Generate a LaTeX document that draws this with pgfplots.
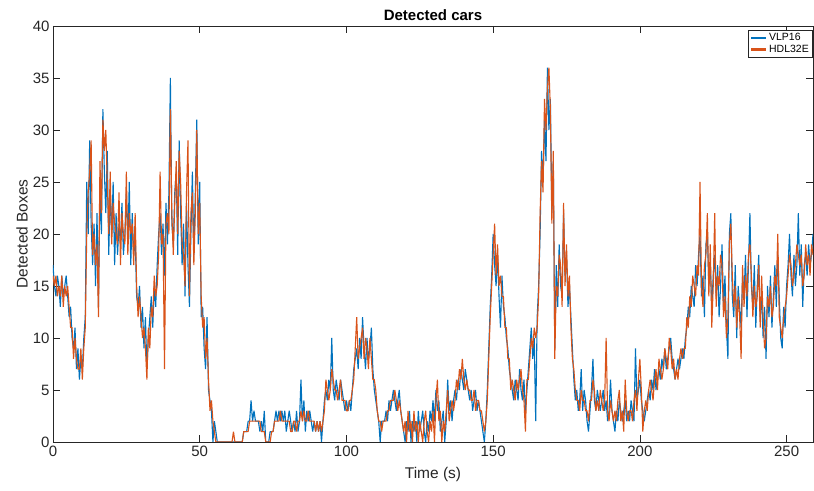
\documentclass[border=0pt]{standalone}
\usepackage{fontspec}
\setmainfont{Liberation Sans}
\usepackage{pgfplots}
\usepackage{pgfplotstable}
\pgfplotsset{compat=1.18}
\definecolor{mblue}{RGB}{0,114,189}
\definecolor{morange}{RGB}{217,83,25}
\definecolor{axgray}{RGB}{38,38,38}

\pgfplotstableread[row sep=\\]{
t v h\\
0.0 17 16\\ 0.5 15 15\\ 1.0 14 16\\ 1.5 16 14\\ 2.0 15 15\\ 2.5 13 14\\ 3.0 16 16\\ 3.5 14 13\\ 4.0 15 15\\ 4.5 16 14\\
5.0 14 15\\ 5.5 12 13\\ 6.0 13 11\\ 6.5 10 11\\ 7.0 9 8\\ 7.5 11 10\\ 8.0 7 8\\ 8.5 9 7\\ 9.0 6 7\\ 9.5 8 9\\
10.0 7 6\\ 10.5 10 9\\ 11.0 12 11\\ 11.5 25 20\\ 12.0 20 24\\ 12.5 29 26\\ 13.0 21 29\\ 13.5 17 18\\ 14.0 21 20\\ 14.5 15 17\\
15.0 22 19\\ 15.5 13 12\\ 16.0 25 27\\ 16.5 20 22\\ 17.0 32 31\\ 17.5 26 28\\ 18.0 22 30\\ 18.5 28 25\\ 19.0 18 20\\ 19.5 24 26\\
20.0 20 19\\ 20.5 25 23\\ 21.0 17 21\\ 21.5 22 20\\ 22.0 18 19\\ 22.5 21 24\\ 23.0 19 17\\ 23.5 23 22\\ 24.0 18 20\\ 24.5 20 19\\
25.0 24 26\\ 25.5 19 18\\ 26.0 25 22\\ 26.5 17 20\\ 27.0 22 21\\ 27.5 18 17\\ 28.0 20 22\\ 28.5 14 15\\ 29.0 13 12\\ 29.5 15 14\\
30.0 11 12\\ 30.5 13 10\\ 31.0 9 11\\ 31.5 12 9\\ 32.0 7 6\\ 32.5 10 11\\ 33.0 12 9\\ 33.5 14 13\\ 34.0 11 12\\ 34.5 15 16\\
35.0 13 14\\ 35.5 17 15\\ 36.0 20 18\\ 36.5 22 26\\ 37.0 18 19\\ 37.5 21 20\\ 38.0 16 7\\ 38.5 23 21\\ 39.0 19 22\\ 39.5 24 20\\
40.0 35 32\\ 40.5 21 22\\ 41.0 19 18\\ 41.5 24 23\\ 42.0 26 27\\ 42.5 18 20\\ 43.0 29 28\\ 43.5 22 25\\ 44.0 17 19\\ 44.5 21 18\\
45.0 14 15\\ 45.5 23 24\\ 46.0 17 29\\ 46.5 13 14\\ 47.0 20 22\\ 47.5 26 24\\ 48.0 18 17\\ 48.5 24 22\\ 49.0 31 30\\ 49.5 19 20\\
50.0 25 23\\ 50.5 12 14\\ 51.0 13 11\\ 51.5 9 12\\ 52.0 7 8\\ 52.5 12 10\\ 53.0 5 6\\ 53.5 4 3\\ 54.0 3 4\\ 54.5 0 2\\
55.0 2 1\\ 55.5 1 0\\ 56.0 0 0\\ 56.5 0 0\\ 57.0 0 0\\ 57.5 0 0\\ 58.0 0 0\\ 58.5 0 0\\ 59.0 0 0\\ 59.5 0 0\\
60.0 0 0\\ 60.5 0 0\\ 61.0 0 0\\ 61.5 0 1\\ 62.0 0 0\\ 62.5 0 0\\ 63.0 0 0\\ 63.5 0 0\\ 64.0 0 0\\ 64.5 0 0\\
65.0 1 1\\ 65.5 1 1\\ 66.0 1 1\\ 66.5 2 1\\ 67.0 2 2\\ 67.5 4 2\\ 68.0 2 2\\ 68.5 3 2\\ 69.0 2 2\\ 69.5 2 2\\
70.0 2 2\\ 70.5 1 2\\ 71.0 2 1\\ 71.5 1 1\\ 72.0 3 1\\ 72.5 0 0\\ 73.0 0 0\\ 73.5 0 0\\ 74.0 1 0\\ 74.5 1 1\\
75.0 1 1\\ 75.5 2 2\\ 76.0 3 2\\ 76.5 2 2\\ 77.0 3 2\\ 77.5 2 3\\ 78.0 3 2\\ 78.5 2 2\\ 79.0 3 2\\ 79.5 1 2\\
80.0 2 2\\ 80.5 3 2\\ 81.0 2 1\\ 81.5 1 1\\ 82.0 2 2\\ 82.5 1 2\\ 83.0 3 1\\ 83.5 1 2\\ 84.0 2 2\\ 84.5 6 3\\
85.0 2 2\\ 85.5 4 3\\ 86.0 1 2\\ 86.5 3 2\\ 87.0 2 3\\ 87.5 3 2\\ 88.0 2 2\\ 88.5 1 2\\ 89.0 2 2\\ 89.5 1 1\\
90.0 2 2\\ 90.5 1 1\\ 91.0 2 2\\ 91.5 0 1\\ 92.0 2 2\\ 92.5 4 3\\ 93.0 5 6\\ 93.5 4 5\\ 94.0 6 4\\ 94.5 5 5\\
95.0 10 7\\ 95.5 5 6\\ 96.0 4 5\\ 96.5 6 5\\ 97.0 5 4\\ 97.5 4 5\\ 98.0 6 6\\ 98.5 5 4\\ 99.0 4 4\\ 99.5 3 4\\
100.0 4 3\\ 100.5 3 3\\ 101.0 4 4\\ 101.5 3 4\\ 102.0 5 5\\ 102.5 7 6\\ 103.0 8 9\\ 103.5 9 12\\ 104.0 7 8\\ 104.5 10 9\\
105.0 8 10\\ 105.5 12 11\\ 106.0 9 8\\ 106.5 7 10\\ 107.0 10 9\\ 107.5 8 7\\ 108.0 9 10\\ 108.5 11 8\\ 109.0 7 6\\ 109.5 5 6\\
110.0 4 5\\ 110.5 3 3\\ 111.0 2 2\\ 111.5 0 2\\ 112.0 2 1\\ 112.5 2 2\\ 113.0 2 2\\ 113.5 3 2\\ 114.0 2 3\\ 114.5 4 3\\
115.0 3 4\\ 115.5 4 4\\ 116.0 5 4\\ 116.5 4 5\\ 117.0 3 4\\ 117.5 4 3\\ 118.0 5 4\\ 118.5 3 3\\ 119.0 2 2\\ 119.5 1 1\\
120.0 0 2\\ 120.5 2 0\\ 121.0 1 3\\ 121.5 3 1\\ 122.0 0 2\\ 122.5 2 0\\ 123.0 1 3\\ 123.5 2 1\\ 124.0 0 2\\ 124.5 3 0\\
125.0 1 2\\ 125.5 2 1\\ 126.0 3 0\\ 126.5 1 2\\ 127.0 0 3\\ 127.5 2 1\\ 128.0 1 0\\ 128.5 3 2\\ 129.0 2 1\\ 129.5 4 3\\
130.0 2 0\\ 130.5 5 4\\ 131.0 3 6\\ 131.5 4 2\\ 132.0 1 3\\ 132.5 2 0\\ 133.0 3 2\\ 133.5 0 1\\ 134.0 2 3\\ 134.5 6 5\\
135.0 3 2\\ 135.5 4 3\\ 136.0 2 4\\ 136.5 4 3\\ 137.0 5 4\\ 137.5 4 6\\ 138.0 6 5\\ 138.5 5 7\\ 139.0 7 6\\ 139.5 6 8\\
140.0 5 6\\ 140.5 7 5\\ 141.0 6 6\\ 141.5 5 5\\ 142.0 4 5\\ 142.5 5 4\\ 143.0 3 4\\ 143.5 4 5\\ 144.0 5 3\\ 144.5 3 4\\
145.0 4 4\\ 145.5 3 3\\ 146.0 2 3\\ 146.5 1 2\\ 147.0 0 1\\ 147.5 2 2\\ 148.0 5 4\\ 148.5 9 8\\ 149.0 13 12\\ 149.5 16 15\\
150.0 20 18\\ 150.5 17 21\\ 151.0 15 16\\ 151.5 18 19\\ 152.0 14 15\\ 152.5 11 16\\ 153.0 16 14\\ 153.5 13 14\\ 154.0 12 11\\ 154.5 10 11\\
155.0 9 8\\ 155.5 7 8\\ 156.0 6 5\\ 156.5 5 6\\ 157.0 4 5\\ 157.5 6 4\\ 158.0 5 6\\ 158.5 4 5\\ 159.0 7 6\\ 159.5 5 7\\
160.0 4 5\\ 160.5 6 4\\ 161.0 3 1\\ 161.5 5 6\\ 162.0 7 6\\ 162.5 9 8\\ 163.0 11 10\\ 163.5 8 9\\ 164.0 10 11\\ 164.5 2 10\\
165.0 12 11\\ 165.5 15 14\\ 166.0 20 22\\ 166.5 28 27\\ 167.0 25 24\\ 167.5 31 33\\ 168.0 27 30\\ 168.5 36 34\\ 169.0 30 36\\ 169.5 33 32\\
170.0 22 21\\ 170.5 27 28\\ 171.0 9 8\\ 171.5 17 15\\ 172.0 13 14\\ 172.5 19 18\\ 173.0 15 17\\ 173.5 14 13\\ 174.0 22 23\\ 174.5 16 15\\
175.0 18 19\\ 175.5 13 14\\ 176.0 15 16\\ 176.5 12 11\\ 177.0 9 8\\ 177.5 6 7\\ 178.0 4 5\\ 178.5 5 4\\ 179.0 3 4\\ 179.5 4 3\\
180.0 7 5\\ 180.5 3 4\\ 181.0 5 4\\ 181.5 4 3\\ 182.0 2 3\\ 182.5 1 2\\ 183.0 3 4\\ 183.5 5 4\\ 184.0 8 6\\ 184.5 4 5\\
185.0 3 3\\ 185.5 5 4\\ 186.0 4 3\\ 186.5 3 5\\ 187.0 4 4\\ 187.5 5 3\\ 188.0 3 4\\ 188.5 4 10\\ 189.0 2 3\\ 189.5 3 2\\
190.0 6 4\\ 190.5 3 3\\ 191.0 2 2\\ 191.5 1 3\\ 192.0 3 2\\ 192.5 2 4\\ 193.0 4 5\\ 193.5 3 2\\ 194.0 2 3\\ 194.5 3 1\\
195.0 4 6\\ 195.5 2 3\\ 196.0 3 2\\ 196.5 2 3\\ 197.0 4 3\\ 197.5 3 2\\ 198.0 2 4\\ 198.5 9 5\\ 199.0 4 3\\ 199.5 5 6\\
200.0 6 8\\ 200.5 4 5\\ 201.0 3 1\\ 201.5 2 3\\ 202.0 3 4\\ 202.5 4 3\\ 203.0 5 5\\ 203.5 4 6\\ 204.0 6 5\\ 204.5 5 4\\
205.0 7 6\\ 205.5 5 7\\ 206.0 6 5\\ 206.5 7 8\\ 207.0 6 7\\ 207.5 8 6\\ 208.0 7 7\\ 208.5 9 9\\ 209.0 7 8\\ 209.5 8 7\\
210.0 9 10\\ 210.5 10 9\\ 211.0 8 7\\ 211.5 7 8\\ 212.0 6 6\\ 212.5 7 7\\ 213.0 8 6\\ 213.5 7 8\\ 214.0 8 9\\ 214.5 9 8\\
215.0 8 9\\ 215.5 10 9\\ 216.0 11 12\\ 216.5 13 11\\ 217.0 12 14\\ 217.5 15 13\\ 218.0 14 16\\ 218.5 13 15\\ 219.0 17 14\\ 219.5 15 17\\
220.0 18 16\\ 220.5 20 25\\ 221.0 14 15\\ 221.5 16 13\\ 222.0 12 17\\ 222.5 19 18\\ 223.0 20 22\\ 223.5 15 14\\ 224.0 17 19\\ 224.5 13 11\\
225.0 16 15\\ 225.5 18 22\\ 226.0 14 13\\ 226.5 17 16\\ 227.0 12 15\\ 227.5 15 18\\ 228.0 19 17\\ 228.5 13 12\\ 229.0 16 14\\ 229.5 11 10\\
230.0 8 12\\ 230.5 20 19\\ 231.0 22 21\\ 231.5 14 16\\ 232.0 12 13\\ 232.5 17 15\\ 233.0 10 11\\ 233.5 15 14\\ 234.0 13 12\\ 234.5 11 8\\
235.0 16 17\\ 235.5 14 13\\ 236.0 18 16\\ 236.5 12 14\\ 237.0 17 18\\ 237.5 22 19\\ 238.0 15 16\\ 238.5 13 12\\ 239.0 17 15\\ 239.5 11 13\\
240.0 15 14\\ 240.5 18 17\\ 241.0 12 11\\ 241.5 14 16\\ 242.0 10 12\\ 242.5 13 9\\ 243.0 8 10\\ 243.5 15 14\\ 244.0 12 13\\ 244.5 16 15\\
245.0 11 12\\ 245.5 14 13\\ 246.0 17 16\\ 246.5 13 15\\ 247.0 18 20\\ 247.5 14 12\\ 248.0 10 11\\ 248.5 9 10\\ 249.0 13 12\\ 249.5 11 13\\
250.0 15 14\\ 250.5 17 16\\ 251.0 20 18\\ 251.5 16 17\\ 252.0 14 15\\ 252.5 18 16\\ 253.0 15 17\\ 253.5 17 19\\ 254.0 22 18\\ 254.5 16 17\\
255.0 19 18\\ 255.5 13 15\\ 256.0 17 16\\ 256.5 18 19\\ 257.0 16 17\\ 257.5 19 18\\ 258.0 17 16\\ 258.5 18 19\\ 259.0 20 18\\
}\data

\begin{document}
\begin{tikzpicture}
\begin{axis}[
  name=ax,
  scale only axis,
  width=760pt, height=416pt,
  xmin=0, xmax=259, ymin=0, ymax=40,
  xtick={0,50,...,250}, ytick={0,5,...,40},
  tick align=inside,
  major tick length=7pt,
  axis line style={axgray, line width=0.7pt},
  tick style={axgray, line width=0.7pt},
  ticklabel style={font=\fontsize{15}{17}\selectfont, text=axgray},
  /pgf/number format/assume math mode=true,
  title={Detected cars},
  title style={font=\fontsize{15}{17}\selectfont\bfseries, at={(axis description cs:0.5,1)}, anchor=south, yshift=-4pt},
  xlabel={Time (s)},
  xlabel style={font=\fontsize{15.5}{17}\selectfont, text=axgray, at={(axis description cs:0.5,-0.0433)}, anchor=north, yshift=-4pt},
  ylabel={Detected Boxes},
  ylabel style={font=\fontsize{15.5}{17}\selectfont, text=axgray, at={(axis description cs:-0.0285,0.5)}, anchor=south, rotate=0},
  legend style={name=leg, font=\fontsize{10.5}{11}\selectfont, at={(axis description cs:0.9987,0.9904)}, anchor=north east, draw=none, fill=white, inner sep=1pt, row sep=-1pt, legend cell align=left},
  legend image code/.code={\draw[#1, line width=2.2pt] (0pt,0pt) -- (15pt,0pt);},
]
\addplot[color=mblue, line width=1.1pt, line join=bevel] table[x=t, y=v] {\data};
\addlegendentry{VLP16}
\addplot[color=morange, line width=1.1pt, line join=bevel] table[x=t, y=h] {\data};
\addlegendentry{HDL32E}
\end{axis}
\draw[axgray, line width=0.7pt] (leg.south west) rectangle (leg.north east);
\pgfresetboundingbox
\path ([shift={(-53pt,-49pt)}]ax.south west) rectangle ([shift={(1pt,26pt)}]ax.north east);
\end{tikzpicture}
\end{document}
